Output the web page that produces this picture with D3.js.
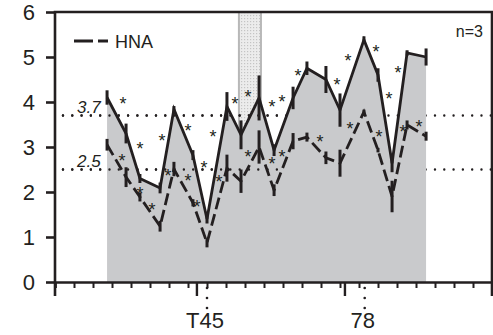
<!DOCTYPE html>
<html>
<head>
<meta charset="utf-8">
<script src="https://cdn.jsdelivr.net/npm/d3@7/dist/d3.min.js"></script>
<style>
  body { margin: 0; background: #fff; }
  svg { display: block; }
  text { font-family: "Liberation Sans", Arial, sans-serif; fill: #231f20; }
</style>
</head>
<body>
<div id="okvir"></div>
<script>
// polozaji mjerenja na x osi (jedinice osi, 0-23)
const xPolozaji = [2.74, 3.74, 4.47, 5.53, 6.26, 7.26, 8.0, 9.05, 9.79, 10.74, 11.53, 12.53, 13.26, 14.26, 15.0, 16.26, 17.0, 17.74, 18.53, 19.53];
// puna linija (siva povrsina ispod nje)
const ukupno = [4.1, 3.3, 2.3, 2.09, 3.84, 2.82, 1.4, 3.9, 3.27, 4.09, 2.93, 4.09, 4.75, 4.5, 3.82, 5.38, 4.6, 2.64, 5.09, 5.0];
const ukupnoGreska = [0.16, 0.22, 0.1, 0.12, 0.07, 0.11, 0.1, 0.32, 0.32, 0.5, 0.13, 0.25, 0.15, 0.3, 0.37, 0.08, 0.15, 0.2, 0.06, 0.19];
// isprekidana linija - HNA
const hna = [3.05, 2.33, 1.89, 1.24, 2.51, 1.76, 0.87, 2.53, 2.24, 3.0, 2.04, 3.13, 3.22, 2.76, 2.64, 3.78, 2.93, 1.9, 3.49, 3.24];
const hnaGreska = [0.13, 0.22, 0.1, 0.12, 0.16, 0.08, 0.1, 0.3, 0.26, 0.37, 0.13, 0.18, 0.1, 0.14, 0.3, 0.05, 0.05, 0.35, 0.1, 0.1];

const yOznake = [0, 1, 2, 3, 4, 5, 6];
const xCrtice = d3.range(0, 24);
const dugeCrtice = [7.47, 15.26];
const pragovi = [3.7, 2.5];
const xOznake = [{ x: 8.0, tekst: "T45" }, { x: 16.3, tekst: "78" }];
const pojas = [9.68, 10.84];

// zvjezdice (znacajnost) - [x, y] u jedinicama osi
const zvjezdice = [
  [3.58, 4.04], [4.47, 3.04], [5.63, 3.22], [7.0, 3.44], [7.84, 2.62], [8.32, 3.31],
  [9.47, 4.04], [10.16, 4.2], [11.42, 3.98], [11.95, 4.09], [12.79, 4.67], [14.84, 4.47],
  [15.42, 5.0], [16.89, 5.2], [17.58, 4.16], [18.05, 4.73],
  [3.53, 2.78], [4.47, 2.04], [5.11, 1.69], [5.95, 2.44], [7.0, 2.33], [7.47, 1.76],
  [8.63, 2.31], [10.16, 2.87], [11.42, 2.71], [11.95, 2.87], [13.95, 3.2], [15.53, 3.49],
  [17.05, 3.31], [18.32, 3.42], [19.16, 3.53]
];

function crtaj() {
  const boja = "#231f20";
  let dimenzije = {
    sirina: 493,
    visina: 335,
    margine: { top: 12, right: 1, bottom: 53, left: 55 }
  };
  dimenzije.grSirina = dimenzije.sirina - dimenzije.margine.left - dimenzije.margine.right;
  dimenzije.grVisina = dimenzije.visina - dimenzije.margine.top - dimenzije.margine.bottom;

  const okvir = d3.select("#okvir").append("svg")
    .attr("width", dimenzije.sirina)
    .attr("height", dimenzije.visina);

  // uzorak za osjencani pojas
  const uzorak = okvir.append("defs").append("pattern")
    .attr("id", "tockice")
    .attr("width", 3).attr("height", 3)
    .attr("patternUnits", "userSpaceOnUse");
  uzorak.append("rect").attr("width", 3).attr("height", 3).attr("fill", "#ececec");
  uzorak.append("rect").attr("width", 1.2).attr("height", 1.2).attr("fill", "#c4c4c4");

  const granice = okvir.append("g")
    .attr("transform", `translate(${dimenzije.margine.left},${dimenzije.margine.top})`);

  const xSkala = d3.scaleLinear().domain([0, 23]).range([0, dimenzije.grSirina]);
  const ySkala = d3.scaleLinear().domain([0, 6]).range([dimenzije.grVisina, 0]);

  const podaci = xPolozaji.map((x, i) => ({
    x: x, u: ukupno[i], uG: ukupnoGreska[i], h: hna[i], hG: hnaGreska[i]
  }));

  // pojas
  granice.append("rect")
    .attr("x", xSkala(pojas[0]))
    .attr("y", ySkala(6))
    .attr("width", xSkala(pojas[1]) - xSkala(pojas[0]))
    .attr("height", ySkala(0) - ySkala(6))
    .attr("fill", "url(#tockice)")
    .attr("stroke", "#b8b8b8")
    .attr("stroke-width", 2);

  const crtajPragove = (od, doX) => {
    granice.selectAll(null).data(pragovi).join("line")
      .attr("x1", xSkala(od)).attr("x2", xSkala(doX))
      .attr("y1", d => ySkala(d)).attr("y2", d => ySkala(d))
      .attr("stroke", boja)
      .attr("stroke-width", 2.4)
      .attr("stroke-linecap", "round")
      .attr("stroke-dasharray", "0,9.3");
  };
  crtajPragove(0.42, 23);

  // siva povrsina ispod pune linije
  const povrsina = d3.area()
    .x(d => xSkala(d.x))
    .y0(ySkala(0))
    .y1(d => ySkala(d.u));
  granice.append("path")
    .datum(podaci)
    .attr("d", povrsina)
    .attr("fill", "#c9cacc");

  crtajPragove(0.42, 11.95);

  granice.selectAll(null).data(pragovi).join("text")
    .attr("x", xSkala(2.4))
    .attr("y", d => ySkala(d) - 3)
    .attr("text-anchor", "end")
    .style("font-size", "17px")
    .style("font-style", "italic")
    .text(d => d3.format(".1f")(d));

  // puna linija
  const linijaU = d3.line().x(d => xSkala(d.x)).y(d => ySkala(d.u));
  granice.append("path")
    .datum(podaci)
    .attr("d", linijaU)
    .attr("fill", "none")
    .attr("stroke", boja)
    .attr("stroke-width", 2.8)
    .attr("stroke-linejoin", "miter");

  granice.selectAll(null).data(podaci).join("line")
    .attr("x1", d => xSkala(d.x)).attr("x2", d => xSkala(d.x))
    .attr("y1", d => ySkala(d.u - d.uG)).attr("y2", d => ySkala(d.u + d.uG))
    .attr("stroke", boja).attr("stroke-width", 3);

  // isprekidana linija HNA
  const linijaH = d3.line().x(d => xSkala(d.x)).y(d => ySkala(d.h));
  granice.append("path")
    .datum(podaci)
    .attr("d", linijaH)
    .attr("fill", "none")
    .attr("stroke", boja)
    .attr("stroke-width", 2.8)
    .attr("stroke-dasharray", "12,5");

  granice.selectAll(null).data(podaci).join("line")
    .attr("x1", d => xSkala(d.x)).attr("x2", d => xSkala(d.x))
    .attr("y1", d => ySkala(d.h - d.hG)).attr("y2", d => ySkala(d.h + d.hG))
    .attr("stroke", boja).attr("stroke-width", 3);

  // zvjezdice
  granice.selectAll(null).data(zvjezdice).join("text")
    .attr("x", d => xSkala(d[0]))
    .attr("y", d => ySkala(d[1]) + 10)
    .attr("text-anchor", "middle")
    .style("font-size", "18px")
    .text("*");

  // osi
  const xOsGen = d3.axisBottom(xSkala)
    .tickValues(xCrtice)
    .tickSize(6)
    .tickFormat("");
  const xOs = granice.append("g")
    .attr("transform", `translate(0,${dimenzije.grVisina})`)
    .call(xOsGen);
  xOs.select(".domain").attr("stroke", boja).attr("stroke-width", 2.6);
  xOs.selectAll(".tick line").attr("stroke", boja).attr("stroke-width", 2);

  granice.selectAll(null).data(dugeCrtice).join("line")
    .attr("x1", d => xSkala(d)).attr("x2", d => xSkala(d))
    .attr("y1", dimenzije.grVisina).attr("y2", dimenzije.grVisina + 14)
    .attr("stroke", boja).attr("stroke-width", 2.4);

  // tockaste oznake ispod osi
  xOznake.forEach(o => {
    granice.selectAll(null).data([6, 16, 26]).join("circle")
      .attr("cx", xSkala(o.x))
      .attr("cy", d => dimenzije.grVisina + d)
      .attr("r", 1.3)
      .attr("fill", boja);
  });
  granice.selectAll(null).data(xOznake).join("text")
    .attr("x", d => xSkala(d.x) - 2)
    .attr("y", dimenzije.grVisina + 46)
    .attr("text-anchor", "middle")
    .style("font-size", "22px")
    .text(d => d.tekst);

  const yOsGen = d3.axisLeft(ySkala)
    .tickValues(yOznake)
    .tickSize(9)
    .tickPadding(11)
    .tickFormat(d3.format("d"));
  const yOs = granice.append("g").call(yOsGen);
  yOs.select(".domain").remove();
  yOs.selectAll(".tick line").attr("stroke", boja).attr("stroke-width", 2.6);
  yOs.selectAll(".tick text")
    .attr("fill", boja)
    .style("font-size", "22px")
    .style("font-family", "'Liberation Sans', Arial, sans-serif");

  // okvir: lijeva, gornja i desna crta
  granice.append("path")
    .attr("d", `M0,${dimenzije.grVisina + 14}V0H${dimenzije.grSirina}V${dimenzije.grVisina + 14}`)
    .attr("fill", "none")
    .attr("stroke", boja)
    .attr("stroke-width", 2.6);

  // legenda
  okvir.append("line")
    .attr("x1", 74).attr("x2", 108)
    .attr("y1", 41).attr("y2", 41)
    .attr("stroke", boja).attr("stroke-width", 3)
    .attr("stroke-dasharray", "19,5");
  okvir.append("text")
    .attr("x", 115).attr("y", 48)
    .style("font-size", "18px")
    .text("HNA");

  okvir.append("text")
    .attr("x", 483).attr("y", 37)
    .attr("text-anchor", "end")
    .style("font-size", "16px")
    .text("n=3");
}

crtaj();
</script>
</body>
</html>
